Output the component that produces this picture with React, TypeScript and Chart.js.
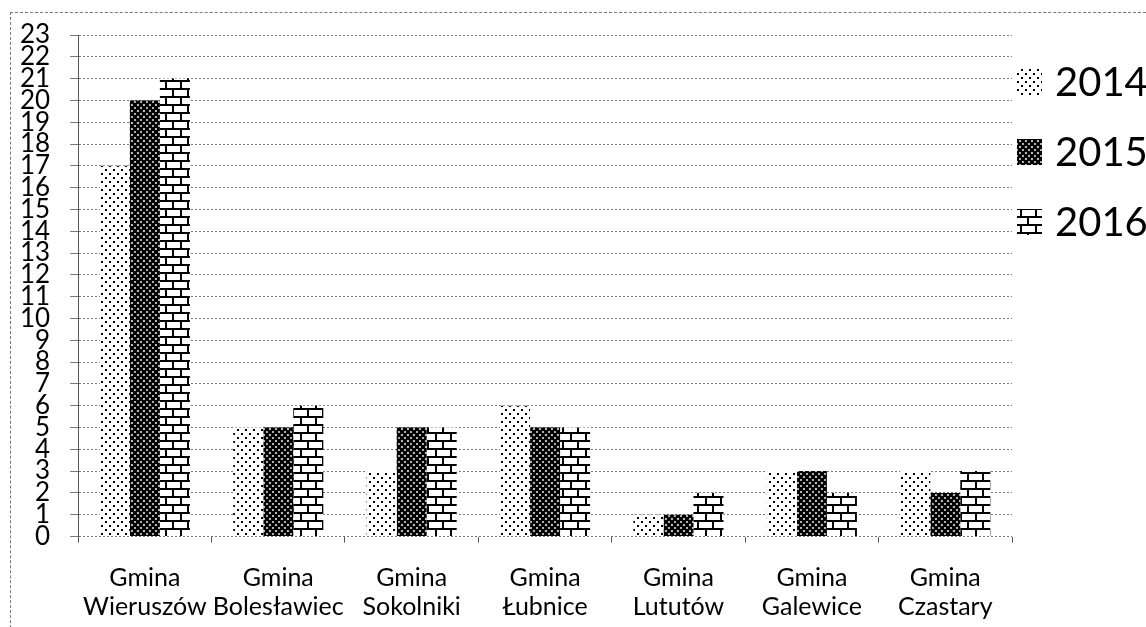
import React, { useEffect, useRef } from "react";
import { Chart, registerables } from "chart.js";

Chart.register(...registerables);

const categories: string[][] = [
  ["Gmina", "Wieruszów"],
  ["Gmina", "Bolesławiec"],
  ["Gmina", "Sokolniki"],
  ["Gmina", "Łubnice"],
  ["Gmina", "Lututów"],
  ["Gmina", "Galewice"],
  ["Gmina", "Czastary"],
];
const seriesNames = ["2014", "2015", "2016"];
const values2014 = [17, 5, 3, 6, 1, 3, 3];
const values2015 = [20, 5, 5, 5, 1, 3, 2];
const values2016 = [21, 6, 5, 5, 2, 2, 3];
const yMax = 23;

const FONT = "Lato, 'Open Sans', 'DejaVu Sans', sans-serif";

function makePattern(kind: string): CanvasPattern | string {
  const c = document.createElement("canvas");
  const ctx = c.getContext("2d");
  if (!ctx) return "#000";
  if (kind === "dots") {
    c.width = 8;
    c.height = 8;
    ctx.fillStyle = "#fff";
    ctx.fillRect(0, 0, 8, 8);
    ctx.fillStyle = "#000";
    ctx.fillRect(1, 1, 2, 2);
    ctx.fillRect(5, 5, 2, 2);
  } else if (kind === "cross") {
    c.width = 6;
    c.height = 6;
    ctx.fillStyle = "#fff";
    ctx.fillRect(0, 0, 6, 6);
    ctx.strokeStyle = "#000";
    ctx.lineWidth = 2.6;
    ctx.beginPath();
    ctx.moveTo(-1, -1);
    ctx.lineTo(7, 7);
    ctx.moveTo(7, -1);
    ctx.lineTo(-1, 7);
    ctx.stroke();
  } else {
    c.width = 30;
    c.height = 16;
    ctx.fillStyle = "#fff";
    ctx.fillRect(0, 0, 30, 16);
    ctx.fillStyle = "#000";
    ctx.fillRect(0, 0, 30, 2);
    ctx.fillRect(0, 8, 30, 2);
    ctx.fillRect(0, 0, 2, 8);
    ctx.fillRect(15, 0, 2, 8);
    ctx.fillRect(7, 8, 2, 8);
    ctx.fillRect(22, 8, 2, 8);
  }
  const p = ctx.createPattern(c, "repeat");
  return p || "#000";
}

const legendPlugin = {
  id: "customLegend",
  afterDraw(chart: any) {
    const ctx = chart.ctx as CanvasRenderingContext2D;
    const boxX = 1017;
    const textX = 1055;
    const ys = [82, 152, 222];
    ctx.save();
    chart.data.datasets.forEach((ds: any, i: number) => {
      const y = ys[i];
      ctx.fillStyle = ds.backgroundColor;
      ctx.fillRect(boxX, y - 13, 25, 26);
      ctx.fillStyle = "#000";
      ctx.font = `40px ${FONT}`;
      ctx.textBaseline = "middle";
      ctx.textAlign = "left";
      ctx.fillText(ds.label, textX, y + 1);
    });
    ctx.restore();
  },
};

export default function App() {
  const ref = useRef<HTMLCanvasElement | null>(null);

  useEffect(() => {
    if (!ref.current) return;
    const patterns = [makePattern("dots"), makePattern("cross"), makePattern("brick")];
    const seriesValues = [values2014, values2015, values2016];
    const chart = new Chart(ref.current, {
      type: "bar",
      data: {
        labels: categories,
        datasets: seriesNames.map((name, i) => ({
          label: name,
          data: seriesValues[i],
          backgroundColor: patterns[i] as any,
          borderWidth: 0,
          barPercentage: 1,
          categoryPercentage: 0.675,
        })),
      },
      options: {
        animation: false,
        responsive: false,
        maintainAspectRatio: false,
        devicePixelRatio: 1,
        layout: { padding: { left: 0, top: 35, right: 134, bottom: 5 } },
        plugins: {
          legend: { display: false },
          tooltip: { enabled: false },
        },
        scales: {
          x: {
            grid: {
              display: true,
              drawOnChartArea: false,
              drawTicks: true,
              tickLength: 6,
              color: "#555",
              offset: true,
            },
            border: { display: false },
            ticks: {
              color: "#000",
              font: { family: FONT, size: 25, lineHeight: 1.15 },
              padding: 21,
              maxRotation: 0,
              autoSkip: false,
            },
          },
          y: {
            min: 0,
            max: yMax,
            grid: {
              color: "#777",
              lineWidth: 1,
              tickLength: 8,
              drawTicks: true,
            },
            border: { display: true, color: "#555", dash: [2, 2] },
            ticks: {
              stepSize: 1,
              autoSkip: false,
              color: "#000",
              font: { family: FONT, size: 26, lineHeight: 1 },
              padding: 20,
            },
          },
        },
      },
      plugins: [legendPlugin],
    });
    return () => chart.destroy();
  }, []);

  return (
    <div style={{ position: "fixed", left: 0, top: 0, width: 1146, height: 627, overflow: "hidden", background: "#fff" }}>
      <div
        style={{
          position: "absolute",
          left: 10,
          top: 12,
          width: 1160,
          height: 640,
          borderLeft: "1px dashed #777",
          borderTop: "1px dashed #777",
        }}
      />
      <canvas ref={ref} width={1146} height={647} style={{ position: "absolute", left: 0, top: 0 }} />
    </div>
  );
}
